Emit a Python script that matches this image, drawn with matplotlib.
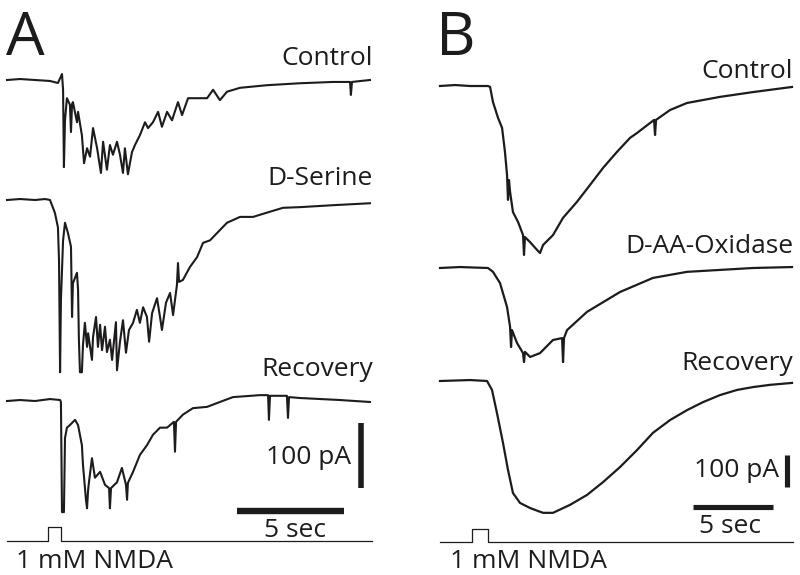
import matplotlib
matplotlib.use('Agg')
import matplotlib.pyplot as plt
import numpy as np

# ---------------- DATA (time in s, current in pA relative to baseline) ----------------
# Panel A
t_ctrl_A = [0, 0.61, 1.31, 2.01, 2.38, 2.57, 2.62, 2.66, 2.71, 2.80, 2.94, 2.99, 3.04, 3.08, 3.27,
            3.32, 3.50, 3.60, 3.74, 3.88, 4.02, 4.21, 4.39, 4.49, 4.67, 4.81, 4.95, 5.14, 5.28, 5.42,
            5.51, 5.65, 5.84, 5.98, 6.21, 6.45, 6.59, 6.82, 7.06, 7.24, 7.48, 7.71, 7.99, 8.18, 8.46,
            8.88, 9.35, 9.63, 9.95, 10.28, 10.89, 12.15, 13.69, 15.23, 16.03, 16.07, 16.12, 16.96]
I_ctrl_A = [0, 1.5, 0, -1.5, -4.6, 9.2, -15, -134, -62, -28, -38, -80, -37, -34, -65,
            -49, -85, -128, -105, -118, -74, -105, -143, -95, -138, -100, -115, -95, -115, -143,
            -105, -145, -111, -100, -85, -65, -74, -65, -49, -72, -49, -62, -34, -54, -28,
            -28, -28, -15, -31, -18, -12, -8, -5, -3, -3, -23, -3, 0]

t_ser_A = [0, 0.61, 1.31, 1.78, 2.01, 2.24, 2.38, 2.43, 2.48, 2.52, 2.62, 2.71, 2.85, 2.99, 3.04,
           3.08, 3.27, 3.32, 3.36, 3.41, 3.50, 3.55, 3.64, 3.74, 3.79, 3.97, 4.02, 4.16, 4.25, 4.35,
           4.44, 4.58, 4.67, 4.81, 4.91, 5.09, 5.14, 5.28, 5.42, 5.56, 5.70, 5.89, 6.07, 6.21, 6.36,
           6.54, 6.64, 6.78, 7.01, 7.15, 7.24, 7.43, 7.62, 7.76, 7.94, 7.99, 8.04, 8.22, 8.55, 8.88,
           9.16, 9.49, 9.81, 10.28, 10.89, 11.50, 12.29, 12.90, 13.69, 15.23, 16.96]
I_ser_A = [0, 1.5, 0, 1.5, 0, -20, -42, -92, -265, -154, -62, -35, -51, -72, -180,
           -128, -112, -138, -215, -265, -265, -223, -189, -226, -205, -246, -211, -180, -226, -192,
           -231, -195, -234, -215, -246, -188, -262, -218, -185, -235, -200, -189, -169, -189, -165,
           -180, -218, -174, -151, -180, -200, -158, -143, -177, -131, -97, -126, -123, -103, -88,
           -66, -62, -51, -35, -26, -26, -18, -12, -11, -8, -5]

t_rec_A = [0, 0.61, 1.31, 2.01, 2.48, 2.52, 2.57, 2.66, 2.71, 2.80, 2.94, 3.18, 3.32, 3.50, 3.55,
           3.69, 3.74, 3.79, 3.83, 3.97, 4.11, 4.35, 4.58, 4.77, 4.81, 4.86, 5.14, 5.37, 5.56, 5.61,
           5.65, 5.89, 6.21, 6.54, 6.82, 7.15, 7.48, 7.80, 7.85, 7.90, 8.22, 8.69, 9.35, 9.95, 10.56,
           11.82, 12.20, 12.24, 12.29, 13.08, 13.13, 13.18, 13.69, 15.56, 16.96]
I_rec_A = [0, 1.5, 0, 3, 1.5, -1.5, -171, -171, -57, -41, -37, -29, -37, -68, -98,
           -152, -165, -137, -125, -88, -118, -109, -129, -134, -165, -134, -125, -103, -129, -152,
           -126, -109, -83, -68, -52, -41, -41, -32, -78, -32, -21, -11, -9, -1.5, 6,
           9, 9, -29, 8, 8, -26, 6, 4.6, 1.5, -1.5]

# Panel B
t_ctrl_B = [0, 0.94, 1.88, 3.0, 3.13, 3.31, 3.63, 3.88, 4.06, 4.19, 4.25, 4.31, 4.38, 4.56, 4.88,
            5.19, 5.25, 5.31, 5.63, 6.06, 6.25, 6.44, 7.06, 7.69, 8.56, 9.38, 10.19, 11.06, 11.88, 12.31,
            13.38, 13.44, 13.5, 14.38, 15.44, 17.5, 19.56, 22.0]
I_ctrl_B = [0, 3, 0, 0, -3, -50, -100, -131, -206, -278, -356, -294, -331, -394, -425,
            -466, -528, -472, -488, -512, -522, -497, -466, -412, -362, -309, -256, -206, -162, -147,
            -106, -153, -106, -75, -53, -34, -19, -3]

t_dao_B = [0, 1.25, 3.0, 3.31, 3.75, 4.19, 4.38, 4.44, 4.5, 4.81, 5.19, 5.25, 5.31, 5.63, 6.25,
           7.06, 7.63, 7.69, 7.75, 7.94, 9.19, 11.25, 13.31, 15.44, 17.5, 19.56, 22.0]
I_dao_B = [0, 3, 0, -12, -47, -122, -184, -247, -194, -234, -266, -294, -262, -278, -266,
           -225, -219, -294, -219, -194, -137, -75, -31, -12, -6, 0, 3]

t_rec_B = [0, 1.88, 2.94, 3.25, 3.56, 3.94, 4.25, 4.56, 5.0, 5.63, 6.44, 7.06, 8.13, 9.19, 10.19,
           11.25, 12.31, 13.31, 14.38, 15.44, 16.44, 17.5, 18.56, 19.56, 20.63, 22.0]
I_rec_B = [0, 3, 0, -28, -100, -194, -278, -350, -381, -397, -412, -412, -387, -356, -316,
           -269, -216, -162, -122, -91, -66, -44, -28, -19, -12, -6]

# stimulus (NMDA application) and record lengths, s
nmda_A = [1.92, 2.52]
nmda_B = [2.0, 3.0]
record_len_A = 17.06
record_len_B = 22.06

trace_labels_A = ["Control", "D-Serine", "Recovery"]
trace_labels_B = ["Control", "D-AA-Oxidase", "Recovery"]
scale_pA = 100
scale_s = 5

# ---------------- LAYOUT ----------------
W, H = 800, 575
INK = '#1e1b1c'
plt.rcParams['font.family'] = ['Open Sans', 'DejaVu Sans']
fig = plt.figure(figsize=(W / 100, H / 100), dpi=100)


def make_panel(px_left, px_right, x0_px, px_per_s, y0_px, px_per_pA):
    ax = fig.add_axes([px_left / W, 0, (px_right - px_left) / W, 1])
    ax.set_xlim((px_left - x0_px) / px_per_s, (px_right - x0_px) / px_per_s)
    ax.set_ylim(-(H - y0_px) / px_per_pA, y0_px / px_per_pA)
    ax.axis('off')
    off = lambda py: -(py - y0_px) / px_per_pA
    return ax, off


def draw_panel(ax, off, traces, bases, nmda, rec_len, stim_py, pulse_py,
               hbar_t0, hbar_py, hbar_lw, vbar_t, vbar_py, vbar_lw, trace_lw):
    for (t, I), b in zip(traces, bases):
        ax.plot(t, np.asarray(I) + off(b), color=INK, lw=trace_lw, solid_joinstyle='round')
    sx = [0, nmda[0], nmda[0], nmda[1], nmda[1], rec_len]
    sy = [off(stim_py), off(stim_py), off(pulse_py), off(pulse_py), off(stim_py), off(stim_py)]
    ax.plot(sx, sy, color=INK, lw=0.9)
    ax.plot([hbar_t0, hbar_t0 + scale_s], [off(hbar_py)] * 2, color=INK, lw=hbar_lw,
            solid_capstyle='butt')
    ax.plot([vbar_t, vbar_t], [off(vbar_py), off(vbar_py) - scale_pA], color=INK, lw=vbar_lw,
            solid_capstyle='butt')


axA, offA = make_panel(0, 400, 7, 21.4, 80, 0.65)
draw_panel(axA, offA,
           [(t_ctrl_A, I_ctrl_A), (t_ser_A, I_ser_A), (t_rec_A, I_rec_A)],
           [80, 200, 401], nmda_A, record_len_A, 541, 527,
           10.75, 511, 4.6, 16.54, 423, 4.0, 1.5)

axB, offB = make_panel(400, 800, 440, 16.0, 86, 0.32)
draw_panel(axB, offB,
           [(t_ctrl_B, I_ctrl_B), (t_dao_B, I_dao_B), (t_rec_B, I_rec_B)],
           [86, 268, 381], nmda_B, record_len_B, 542, 529,
           15.81, 507, 3.7, 21.69, 455, 3.7, 1.6)


def ftext(x, y, s, **kw):
    fig.text(x / W, 1 - y / H, s, color=INK, va='baseline', **kw)


FS = 19
ftext(6, 55, "A", fontsize=44, ha='left')
ftext(436, 55, "B", fontsize=44, ha='left')
for lab, yb in zip(trace_labels_A, [65, 185, 376]):
    ftext(373, yb, lab, fontsize=FS, ha='right')
for lab, yb in zip(trace_labels_B, [78, 253, 370]):
    ftext(793, yb, lab, fontsize=FS, ha='right')
ftext(351, 464, f"{scale_pA} pA", fontsize=FS, ha='right')
ftext(779, 477, f"{scale_pA} pA", fontsize=FS, ha='right')
ftext(295, 537, f"{scale_s} sec", fontsize=FS, ha='center')
ftext(730, 533, f"{scale_s} sec", fontsize=FS, ha='center')
ftext(16, 568, "1 mM NMDA", fontsize=FS, ha='left')
ftext(450, 568, "1 mM NMDA", fontsize=FS, ha='left')

fig.savefig('out.png', dpi=100, facecolor='white')
